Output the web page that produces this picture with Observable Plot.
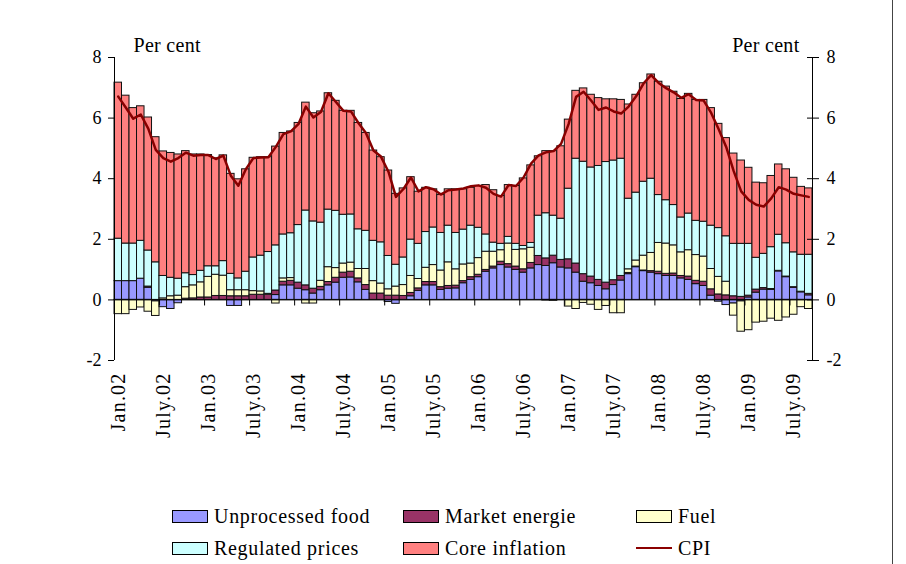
<!DOCTYPE html>
<html><head><meta charset="utf-8">
<script src="https://cdn.jsdelivr.net/npm/d3@7"></script>
<script src="https://cdn.jsdelivr.net/npm/@observablehq/plot@0.6"></script>
<style>
body{margin:0;background:#fff;}
#wrap{position:relative;width:906px;height:564px;overflow:hidden;font-family:"Liberation Serif",serif;color:#000;}
#wrap svg{position:absolute;left:0;top:0;}
#border{position:absolute;left:892px;top:0;width:0;height:564px;border-left:1px solid #444;}
#legend{position:absolute;left:172px;top:506px;display:grid;grid-template-columns:231px 233px 150px;row-gap:12px;font-size:20px;letter-spacing:0.7px;}
.item{display:flex;align-items:center;height:20px;white-space:nowrap;}
.sw{box-sizing:border-box;width:36px;height:13px;border:1px solid #000;margin-right:6px;}
.ln{width:36px;height:0;border-top:2.5px solid #8b0000;margin-right:6px;}
</style></head>
<body><div id="wrap"><div id="border"></div></div>
<script>
// categories: monthly, Jan 2002 - Sep 2009
const months = d3.utcMonth.range(new Date(Date.UTC(2002,0,1)), new Date(Date.UTC(2009,9,1)));
const tickLabels = ["Jan.02","July.02","Jan.03","July.03","Jan.04","July.04","Jan.05","July.05",
  "Jan.06","July.06","Jan.07","July.07","Jan.08","July.08","Jan.09","July.09"];
const yTicks = [-2,0,2,4,6,8];

const seriesNames = ["Unprocessed food","Market energie","Fuel","Regulated prices","Core inflation"];
const seriesColors = ["#9999ff","#993366","#ffffcc","#ccffff","#ff8080"];

const food = [0.62,0.62,0.62,0.70,0.40,-0.05,-0.24,-0.30,-0.11,0,
0,0,0,0,0,-0.20,-0.20,0,0,0,
0,0.16,0.48,0.48,0.37,0.32,0.21,0.32,0.48,0.57,
0.73,0.74,0.58,0.33,0,0,-0.07,-0.13,0,0.12,
0.30,0.48,0.48,0.33,0.37,0.38,0.55,0.66,0.75,0.93,
1.04,1.15,1.07,0.99,0.90,1.04,1.15,1.12,1.21,1.07,
1.04,0.90,0.60,0.55,0.46,0.35,0.49,0.64,0.85,1.08,
0.95,0.90,0.85,0.79,0.79,0.71,0.66,0.52,0.46,0.14,
-0.06,-0.17,-0.12,-0.05,0.08,0.24,0.34,0.33,0.94,0.75,
0.40,0.25,0.15];

const energy = [0,0,0,0,0.04,0,0,0,0,0.04,
0.05,0.08,0.08,0.13,0.13,0.12,0.12,0.12,0.17,0.17,
0.17,0.15,0.12,0.15,0.20,0.16,0.16,0.11,0.11,0.16,
0.17,0.19,0.13,0.16,0.21,0.21,0.14,0.14,0.13,0.11,
0.08,0.11,0.11,0.09,0.09,0.09,0.07,0.09,0.08,0.06,
0.06,0.11,0.11,0.11,0.11,0.18,0.30,0.25,0.25,0.25,
0.30,0.30,0.25,0.22,0.20,0.22,0.16,0.15,0.04,0.02,
0.02,0.05,0.08,0.07,0.08,0.08,0.11,0.11,0.14,0.21,
0.18,0.15,0.12,0.10,0.06,0.10,0.05,0.03,0.02,0.02,
0.02,0.02,0.05];

const fuel = [-0.47,-0.47,-0.33,-0.25,-0.39,-0.48,0.05,0.12,0.14,0.38,
0.43,0.50,0.68,0.70,0.67,0.20,0.20,0.20,0.12,0.11,
0.03,-0.12,0.11,0.09,0,-0.12,-0.12,0.20,0.49,0.32,
0.30,0.30,0.31,0.53,0.41,0.33,0.21,0.30,0.36,0.56,
0.31,0.47,0.56,0.55,0.78,0.54,0.55,0.45,0.55,0.60,
0.49,0.38,0.68,0.55,0.66,0.50,0,-0.02,-0.03,0,
-0.22,-0.30,-0.10,-0.16,-0.33,-0.20,-0.44,-0.44,0.12,0.20,
0.49,0.60,0.95,1.00,0.93,0.78,0.87,0.85,0.83,0.67,
0.58,0.45,-0.40,-1.00,-1.00,-0.75,-0.72,-0.62,-0.69,-0.58,
-0.49,-0.24,-0.30];

const regulated = [1.40,1.24,1.24,1.25,1.19,1.24,0.74,0.61,0.56,0.46,
0.34,0.38,0.35,0.28,0.48,0.54,0.39,0.61,1.11,1.18,
1.38,1.49,1.45,1.48,1.90,2.47,2.22,1.92,1.90,1.89,
1.61,1.59,1.31,1.26,1.33,1.36,1.10,0.72,0.91,1.20,
1.16,1.18,1.24,1.24,1.21,1.20,1.15,1.25,1.00,0.57,
0.30,0.21,0.22,0.20,0.11,0.16,1.33,1.49,1.32,1.36,
2.33,3.46,3.71,3.60,3.76,3.98,3.95,3.87,2.33,2.24,
2.44,2.45,1.58,1.43,1.33,1.15,1.21,1.13,1.15,1.43,
1.61,1.50,1.73,1.75,1.71,1.05,1.13,1.38,1.19,1.10,
1.15,1.22,1.29];

const core = [5.15,4.88,4.47,4.44,4.39,4.13,4.11,4.12,4.10,4.03,
3.98,3.84,3.67,3.56,3.49,3.30,3.27,3.38,3.29,3.25,
3.13,3.26,3.35,3.36,3.37,3.56,3.57,3.67,3.84,3.63,
3.43,3.42,3.51,3.23,2.98,2.81,2.82,2.34,2.28,2.06,
1.72,1.46,1.26,1.25,1.20,1.44,1.33,1.25,1.38,1.63,
1.73,1.58,1.71,1.91,2.23,2.56,1.96,2.05,2.13,2.39,
2.28,2.24,2.42,2.40,2.24,2.07,2.02,1.94,3.11,3.23,
3.25,3.44,3.74,3.75,3.74,3.91,3.95,3.99,4.02,3.88,
3.44,3.24,2.98,2.75,2.51,2.48,2.33,2.35,2.32,2.44,
2.46,2.24,2.19];

const cpi = [6.71,6.35,5.98,6.12,5.65,4.95,4.68,4.56,4.68,4.86,
4.76,4.78,4.78,4.65,4.76,4.10,3.77,4.31,4.68,4.70,
4.71,5.05,5.47,5.56,5.80,6.38,6.02,6.20,6.82,6.53,
6.24,6.22,5.84,5.51,4.93,4.73,4.23,3.40,3.66,4.04,
3.58,3.72,3.65,3.48,3.62,3.64,3.68,3.75,3.78,3.70,
3.50,3.41,3.79,3.76,4.04,4.50,4.77,4.87,4.91,5.15,
5.80,6.70,6.87,6.58,6.27,6.35,6.22,6.15,6.38,6.72,
7.15,7.42,7.16,6.99,6.85,6.67,6.79,6.60,6.58,6.17,
5.63,5.05,4.25,3.58,3.30,3.14,3.08,3.35,3.72,3.64,
3.50,3.45,3.40];

const seriesValues = [food, energy, fuel, regulated, core];

// long table for the stacked bars (month index i, band [i, i+1])
const rows = [];
months.forEach((m, i) => {
  seriesNames.forEach((name, s) => rows.push({i, i2: i + 1, name, value: seriesValues[s][i]}));
});
const cpiRows = months.map((m, i) => ({xc: i + 0.5, cpi: cpi[i]}));

// label positions: January and July of each year (bar centres), tick marks at half-year boundaries
const labelIdx = months.map((m, i) => i).filter(i => months[i].getUTCMonth() % 6 === 0);
const labelPos = labelIdx.map(i => i + 0.5);
const labelMap = new Map(labelPos.map((p, k) => [p, tickLabels[k]]));
const boundaries = labelIdx.filter(i => i > 0);

const chart = Plot.plot({
  width: 906, height: 564,
  marginLeft: 114, marginRight: 94, marginTop: 57, marginBottom: 204,
  x: {type: "linear", domain: [0, months.length]},
  y: {domain: [-2, 8]},
  color: {domain: seriesNames, range: seriesColors},
  style: {fontFamily: "Liberation Serif, serif", fontSize: "18px", color: "#000", background: "transparent", overflow: "visible"},
  marks: [
    Plot.rectY(rows, {x1: "i", x2: "i2", y: "value", fill: "name", stroke: "#111", strokeWidth: 1}),
    Plot.ruleY([0], {stroke: "#000", strokeWidth: 1}),
    Plot.ruleX(boundaries, {x: d => d, y1: 0, y2: -0.2, stroke: "#000"}),
    Plot.ruleX([0, months.length], {stroke: "#000", strokeWidth: 1}),
    Plot.line(cpiRows, {x: "xc", y: "cpi", stroke: "#880000", strokeWidth: 2.5, curve: "linear"}),
    Plot.axisY({anchor: "left", ticks: yTicks, tickFormat: d => String(d), tickSize: 6, tickPadding: 7, label: null, fontSize: 18}),
    Plot.axisY({anchor: "right", ticks: yTicks, tickFormat: d => String(d), tickSize: 12, dx: -6, tickPadding: 8, label: null, fontSize: 18}),
    Plot.axisX({anchor: "bottom", ticks: labelPos, tickFormat: d => labelMap.get(d), tickRotate: -90, tickSize: 0, tickPadding: 12, label: null, fontSize: 20}),
    Plot.text(["Per cent"], {frameAnchor: "top-left", dx: 19, dy: -6, textAnchor: "start", lineAnchor: "bottom", fontSize: 20}),
    Plot.text(["Per cent"], {frameAnchor: "top-right", dx: -13, dy: -6, textAnchor: "end", lineAnchor: "bottom", fontSize: 20})
  ]
});

// wider letter spacing to approximate the Garamond-like original face
d3.select(chart).selectAll('g[aria-label="x-axis tick label"] text').attr("letter-spacing", "1.2px");
d3.select(chart).selectAll('g[aria-label="text"] text').attr("letter-spacing", "0.3px");

const wrap = document.getElementById("wrap");
wrap.appendChild(chart);

// legend
const legend = document.createElement("div");
legend.id = "legend";
seriesNames.forEach((name, s) => {
  const it = document.createElement("div");
  it.className = "item";
  const sw = document.createElement("span");
  sw.className = "sw";
  sw.style.background = seriesColors[s];
  it.appendChild(sw);
  it.appendChild(document.createTextNode(name));
  legend.appendChild(it);
});
const cpiItem = document.createElement("div");
cpiItem.className = "item";
const ln = document.createElement("span");
ln.className = "ln";
cpiItem.appendChild(ln);
cpiItem.appendChild(document.createTextNode("CPI"));
legend.appendChild(cpiItem);
wrap.appendChild(legend);
</script>
</body></html>
